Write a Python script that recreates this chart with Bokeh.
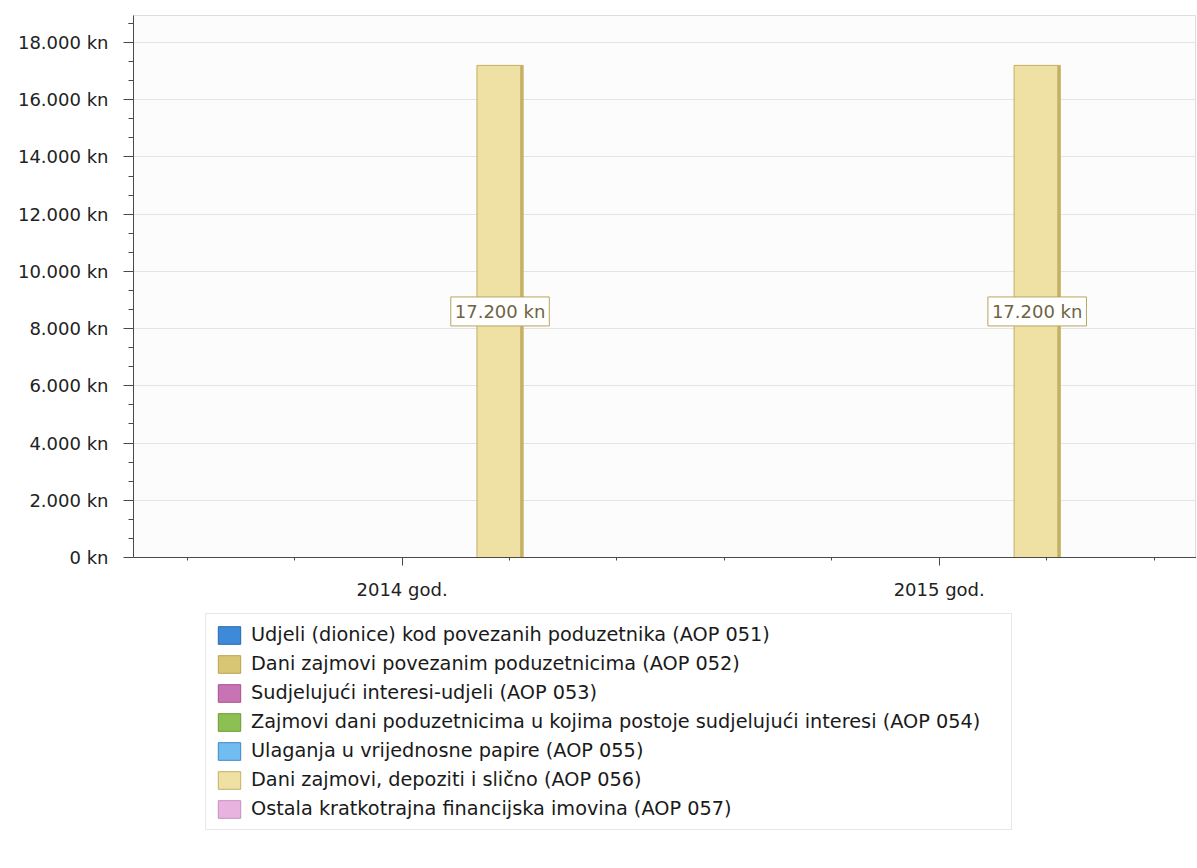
import numpy as np
from bokeh.plotting import figure
from bokeh.layouts import column
from bokeh.models import (ColumnDataSource, FixedTicker, Legend, LegendItem)
from bokeh.core.properties import value
from bokeh.embed import file_html
from bokeh.resources import INLINE

# ---------------- data ----------------
years = ["2014 god.", "2015 god."]
series = [
    "Udjeli (dionice) kod povezanih poduzetnika (AOP 051)",
    "Dani zajmovi povezanim poduzetnicima (AOP 052)",
    "Sudjelujući interesi-udjeli (AOP 053)",
    "Zajmovi dani poduzetnicima u kojima postoje sudjelujući interesi (AOP 054)",
    "Ulaganja u vrijednosne papire (AOP 055)",
    "Dani zajmovi, depoziti i slično (AOP 056)",
    "Ostala kratkotrajna financijska imovina (AOP 057)",
]
aop051 = [0, 0]
aop052 = [0, 0]
aop053 = [0, 0]
aop054 = [0, 0]
aop055 = [0, 0]
aop056 = [17200, 17200]
aop057 = [0, 0]
values = [aop051, aop052, aop053, aop054, aop055, aop056, aop057]
y_ticks = [0, 2000, 4000, 6000, 8000, 10000, 12000, 14000, 16000, 18000]

colors = ["#3d8ad8", "#d9c675", "#c873b3", "#8dc052", "#72bdf0", "#eee1a3", "#e9b3e0"]
edges = ["#2a66b0", "#b8a250", "#a8508e", "#6a9a34", "#3f86c6", "#c4af62", "#c48fc0"]


def kn(v):
    return f"{int(v):,}".replace(",", ".") + " kn"


FONT = "DejaVu Sans"

# ---------------- main chart ----------------
p = figure(frame_width=1063, frame_height=542, output_backend="svg",
           toolbar_location=None, x_range=(-0.5, 1.479), y_range=(0, 18944),
           min_border_left=133, min_border_right=0, min_border_top=15,
           min_border_bottom=43)
p.background_fill_color = "#fcfcfd"
p.border_fill_color = "white"
p.outline_line_color = "#dddddd"

# legend strip below the chart (same data, bars kept out of its view)
pl = figure(frame_width=1196, frame_height=266, output_backend="svg",
            toolbar_location=None, x_range=(-0.5, 1.5), y_range=(1e6, 2e6),
            x_axis_location=None, y_axis_location=None,
            min_border_left=0, min_border_right=0, min_border_top=0,
            min_border_bottom=0)
pl.outline_line_color = None
pl.background_fill_color = "white"
pl.xgrid.visible = False
pl.ygrid.visible = False

n = len(series)
slot = 0.0912
bar_w = 0.086
x_idx = np.arange(len(years))

items = []
label_rows = dict(x=[], y=[], t=[])
for k, (name, vals) in enumerate(zip(series, values)):
    xs = x_idx + (k - (n - 1) / 2) * slot
    src = ColumnDataSource(dict(x=xs, top=vals))
    p.vbar(x="x", top="top", width=bar_w, source=src,
           fill_color=colors[k], line_color=edges[k], line_width=1)
    # darker right edge strip of each bar
    src2 = ColumnDataSource(dict(x=xs + bar_w / 2 - 0.003, top=vals))
    p.vbar(x="x", top="top", width=0.005, source=src2,
           fill_color=edges[k], line_color=None)
    r = pl.vbar(x="x", top="top", width=bar_w, source=src,
                fill_color=colors[k], line_color=edges[k], line_width=1)
    items.append(LegendItem(label=name, renderers=[r]))
    for i, v in enumerate(vals):
        if v > 0:
            label_rows["x"].append(xs[i])
            label_rows["y"].append(v / 2)
            label_rows["t"].append(kn(v))

p.text(x="x", y="y", text="t", source=ColumnDataSource(label_rows),
       text_align="center", text_baseline="middle",
       text_font=value(FONT), text_font_size="18px", text_color="#6f6442",
       background_fill_color="white", border_line_color="#b8a560",
       border_line_width=1, padding=4)

# axes
p.xgrid.visible = False
p.ygrid.grid_line_color = "#e4e4e4"
p.ygrid.ticker = FixedTicker(ticks=y_ticks)

minor_y = [t + d * 2000 / 3 for t in y_ticks for d in (1, 2)] + [18000 + 2000 / 3]
p.yaxis.ticker = FixedTicker(ticks=y_ticks, minor_ticks=minor_y)
p.yaxis.major_label_overrides = {t: kn(t) for t in y_ticks}
p.xaxis.ticker = FixedTicker(ticks=list(x_idx),
                             minor_ticks=[round(v, 1) for v in np.arange(-0.4, 1.5, 0.2)
                                          if abs(v - round(v)) > 1e-6])
p.xaxis.major_label_overrides = {int(i): y for i, y in zip(x_idx, years)}

for ax in (p.xaxis, p.yaxis):
    ax.axis_line_color = "#4a4a4a"
    ax.major_tick_line_color = "#4a4a4a"
    ax.minor_tick_line_color = "#4a4a4a"
    ax.major_tick_in = 0
    ax.minor_tick_in = 0
    ax.major_label_text_font = FONT
    ax.major_label_text_font_size = "18px"
    ax.major_label_text_color = "#222222"
p.yaxis.major_tick_out = 10
p.yaxis.minor_tick_out = 5
p.yaxis.major_label_standoff = 15
p.xaxis.major_tick_out = 8
p.xaxis.minor_tick_out = 3
p.xaxis.major_label_standoff = 13

legend = Legend(items=items, location=(205, 38), orientation="vertical",
                label_text_font=FONT, label_text_font_size="19.3px",
                label_text_color="#1a1a1a", glyph_width=28, glyph_height=22,
                label_height=22, label_width=751, label_standoff=8,
                spacing=6, padding=9,
                border_line_color="#d0d0d0", background_fill_color="white",
                margin=0)
pl.add_layout(legend, "center")

layout = column(p, pl, spacing=0)
open("out.html", "w").write(file_html(layout, INLINE))
